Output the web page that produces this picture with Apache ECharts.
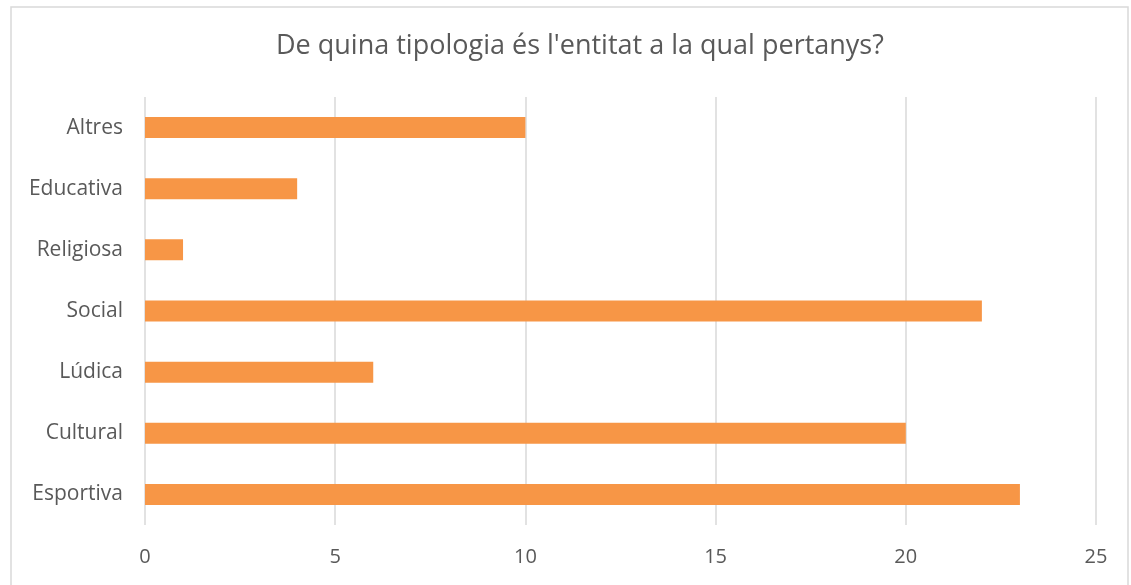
<!DOCTYPE html>
<html>
<head>
<meta charset="utf-8">
<script src="https://cdn.jsdelivr.net/npm/echarts@6/dist/echarts.min.js"></script>
<style>
html,body{margin:0;padding:0;background:#fff;}
#chart{width:1131px;height:585px;}
</style>
</head>
<body>
<div id="chart"></div>
<script>
// categories from bottom to top
var categories = ['Esportiva', 'Cultural', 'Lúdica', 'Social', 'Religiosa', 'Educativa', 'Altres'];
var values = [23, 20, 6, 22, 1, 4, 10];
var xTicks = [0, 5, 10, 15, 20, 25];

var chart = echarts.init(document.getElementById('chart'));
var option = {
    animation: false,
    textStyle: { fontFamily: 'Open Sans' },
    graphic: [{
        type: 'rect',
        shape: { x: 11, y: 7, width: 1117, height: 600 },
        style: { fill: 'none', stroke: '#d9d9d9', lineWidth: 1.5 },
        silent: true
    }],
    title: {
        text: "De quina tipologia és l'entitat a la qual pertanys?",
        left: 271,
        top: 28,
        textStyle: { fontSize: 27, fontWeight: 'normal', color: '#595959', fontFamily: 'Open Sans' }
    },
    grid: { left: 145, right: 35, top: 97, bottom: 60 },
    xAxis: {
        type: 'value',
        min: xTicks[0],
        max: xTicks[xTicks.length - 1],
        interval: 5,
        axisLine: { show: false },
        axisTick: { show: false },
        axisLabel: { color: '#595959', fontSize: 20, margin: 22 },
        splitLine: { lineStyle: { color: '#d9d9d9', width: 1.5 } }
    },
    yAxis: {
        type: 'category',
        data: categories,
        axisLine: { show: false },
        axisTick: { show: false },
        axisLabel: { color: '#595959', fontSize: 21, margin: 22 }
    },
    series: [{
        type: 'bar',
        data: values,
        barWidth: 21,
        itemStyle: { color: '#f79646' }
    }]
};
chart.setOption(option);
</script>
</body>
</html>
